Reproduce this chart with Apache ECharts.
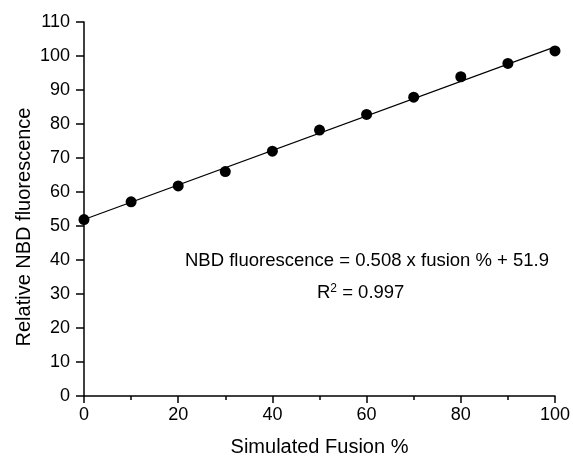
<!DOCTYPE html>
<html>
<head>
<meta charset="utf-8">
<script src="https://cdn.jsdelivr.net/npm/echarts@6/dist/echarts.min.js"></script>
<style>
  html, body { margin: 0; padding: 0; background: #fff; }
  #chart { width: 573px; height: 462px; }
</style>
</head>
<body>
<div id="chart"></div>
<script>
// Simulated fusion (%) and measured relative NBD fluorescence
const fusionPct = [0, 10, 20, 30, 40, 50, 60, 70, 80, 90, 100];
const nbdFluor = [51.9, 57.1, 61.8, 66.0, 72.0, 78.2, 82.8, 87.9, 93.9, 97.8, 101.5];

// Linear fit: NBD fluorescence = slope x fusion % + intercept
const fitSlope = 0.508;
const fitIntercept = 51.9;
const fitR2 = 0.997;
const fitRange = [0, 100];

const xTitle = 'Simulated Fusion %';
const yTitle = 'Relative NBD fluorescence';

const fitLine = fitRange.map(x => [x, fitSlope * x + fitIntercept]);
const points = fusionPct.map((x, i) => [x, nbdFluor[i]]);

const font = 'Liberation Sans, Arial, sans-serif';
const ink = '#000';

const chart = echarts.init(document.getElementById('chart'), null, { renderer: 'canvas' });
chart.setOption({
  animation: false,
  backgroundColor: '#fff',
  grid: { left: 84, right: 17, top: 22, bottom: 62, containLabel: false },
  xAxis: {
    type: 'value', min: 0, max: 100, interval: 20,
    name: xTitle, nameLocation: 'middle', nameGap: 41,
    nameTextStyle: { fontFamily: font, fontSize: 20, color: ink },
    axisLine: { show: true, onZero: false, lineStyle: { color: ink, width: 1.5 } },
    axisTick: { show: true, length: 7, lineStyle: { color: ink, width: 1.5 } },
    minorTick: { show: true, splitNumber: 2, length: 4, lineStyle: { color: ink, width: 1.5 } },
    axisLabel: { fontFamily: font, fontSize: 18, color: ink, margin: 10 },
    splitLine: { show: false }
  },
  yAxis: {
    type: 'value', min: 0, max: 110, interval: 10,
    axisLine: { show: true, onZero: false, lineStyle: { color: ink, width: 1.5 } },
    axisTick: { show: true, length: 8, lineStyle: { color: ink, width: 1.5 } },
    axisLabel: { fontFamily: font, fontSize: 18, color: ink, margin: 14 },
    splitLine: { show: false }
  },
  series: [
    {
      type: 'line', data: fitLine, symbol: 'none', silent: true,
      lineStyle: { color: ink, width: 1.2 }, z: 2
    },
    {
      type: 'scatter', data: points, symbol: 'circle', symbolSize: 11,
      itemStyle: { color: ink, opacity: 1 }, z: 3
    }
  ],
  graphic: [
    {
      // vertical axis title
      type: 'text', x: 24, y: 227, rotation: Math.PI / 2,
      style: {
        text: yTitle, font: '20px ' + font, fill: ink,
        align: 'center', verticalAlign: 'middle'
      }
    },
    {
      type: 'text', left: 185, top: 251,
      style: {
        text: 'NBD fluorescence = ' + fitSlope.toFixed(3) + ' x fusion % + ' + fitIntercept.toFixed(1),
        font: '18.5px ' + font, fill: ink
      }
    },
    {
      type: 'text', left: 317, top: 283,
      style: {
        text: '{b|R}{s|2}{b| = ' + fitR2.toFixed(3) + '}',
        rich: {
          b: { fontFamily: font, fontSize: 18.5, color: ink },
          s: { fontFamily: font, fontSize: 12, color: ink, verticalAlign: 'top' }
        }
      }
    }
  ]
});
</script>
</body>
</html>
